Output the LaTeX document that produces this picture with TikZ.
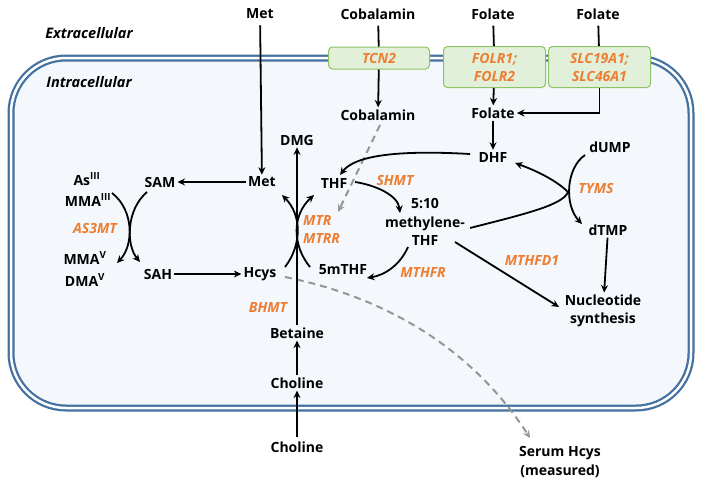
\documentclass[tikz,border=0pt]{standalone}
\usepackage{fontspec}
\setmainfont{Open Sans}
\usetikzlibrary{arrows.meta,calc}
\definecolor{orng}{RGB}{237,125,49}
\definecolor{memb}{RGB}{68,114,160}
\definecolor{cellfill}{RGB}{244,248,252}
\definecolor{boxfill}{RGB}{226,240,217}
\definecolor{boxline}{RGB}{140,195,100}
\definecolor{dgray}{RGB}{150,150,150}
\begin{document}
\begin{tikzpicture}[x=1pt,y=-1pt,
 lbl/.style={font=\fontsize{14}{18.5}\selectfont\bfseries, inner sep=2pt, align=center},
 enz/.style={font=\fontsize{14}{18}\selectfont\bfseries\itshape, text=orng, inner sep=1pt, align=center},
 tbox/.style={draw=boxline, fill=boxfill, rounded corners=4pt, line width=1pt, font=\fontsize{14}{18}\selectfont\bfseries\itshape, text=orng, align=center, inner sep=0pt},
 arr/.style={line width=1.8pt, -{Stealth[length=7.5pt,width=7pt]}},
 ln/.style={line width=1.8pt},
 dsh/.style={draw=dgray, line width=2pt, dash pattern=on 7pt off 5pt, -{Stealth[length=7.5pt,width=7pt]}}
]
\useasboundingbox (0,0) rectangle (704,491);
% cell membrane
\draw[draw=memb, line width=7pt, fill=cellfill, rounded corners=55pt] (11,58) rectangle (691,408);
\draw[draw=white, line width=2.5pt, rounded corners=55pt] (11,58) rectangle (691,408);

\node[font=\fontsize{14.5}{17}\selectfont\bfseries\itshape] (extra) at (89,33) {Extracellular};
\node[font=\fontsize{14.5}{17}\selectfont\bfseries\itshape] (intra) at (89,82) {Intracellular};

% outside
\node[lbl] (metout) at (260,14) {Met};
\node[lbl] (cobout) at (378,14) {Cobalamin};
\node[lbl] (folout1) at (493,14) {Folate};
\node[lbl] (folout2) at (598,14) {Folate};
\node[lbl] (cholout) at (297,447) {Choline};
\node[lbl] (serum) at (560,462) {Serum Hcys\\(measured)};

% transporters
\node[tbox, minimum width=101pt, minimum height=22pt] (tcn2) at (379,58) {TCN2};
\node[tbox, minimum width=102pt, minimum height=41pt] (folr) at (494.5,67) {FOLR1;\\FOLR2};
\node[tbox, minimum width=102pt, minimum height=41pt] (slc) at (599.5,67) {SLC19A1;\\SLC46A1};

% inside
\node[lbl] (cobin) at (378,115) {Cobalamin};
\node[lbl] (folin) at (493,113) {Folate};
\node[lbl] (dhf) at (493,157) {DHF};
\node[lbl] (thf) at (334,183) {THF};
\node[lbl] (mthf) at (425,222) {5:10\\methylene-\\THF};
\node[lbl] (fivem) at (343,270) {5mTHF};
\node[lbl] (dump) at (610,147) {dUMP};
\node[lbl] (dtmp) at (608,230) {dTMP};
\node[lbl] (nuc) at (603,311) {Nucleotide\\synthesis};
\node[lbl] (dmg) at (297,140) {DMG};
\node[lbl] (met) at (262,182) {Met};
\node[lbl] (hcys) at (260,274) {Hcys};
\node[lbl] (sam) at (160,182) {SAM};
\node[lbl] (sah) at (158,274) {SAH};
\node[lbl] (betaine) at (297,333) {Betaine};
\node[lbl] (cholin) at (297,383) {Choline};
\node[lbl] (asiii) at (87,179) {As\textsuperscript{III}};
\node[lbl] (mmaiii) at (88,200) {MMA\textsuperscript{III}};
\node[lbl] (mmav) at (85,258) {MMA\textsuperscript{V}};
\node[lbl] (dmav) at (85,280) {DMA\textsuperscript{V}};

% enzymes
\node[enz] (as3mt) at (95,228) {AS3MT};
\node[enz, anchor=west] (mtr) at (302,220) {MTR};
\node[enz, anchor=west] (mtrr) at (302,238) {MTRR};
\node[enz] (bhmt) at (268,307) {BHMT};
\node[enz] (shmt) at (395,180) {SHMT};
\node[enz] (mthfr) at (423,272) {MTHFR};
\node[enz] (mthfd) at (532,260) {MTHFD1};
\node[enz] (tyms) at (596,188) {TYMS};

% dashed grey
\draw[dsh] ([shift={(2,10)}]cobin.center) -- ([shift={(4,29)}]thf.center);
\draw[dsh] ([shift={(25,3)}]hcys.center) .. controls (400,300) and (480,360) .. ([shift={(-30,-24)}]serum.center);

% transport
\draw[arr, shorten <=4pt] (metout) -- (met);
\draw[ln, shorten <=4pt] (cobout) -- (tcn2);
\draw[arr] (tcn2) -- (cobin);
\draw[ln, shorten <=4pt] (folout1) -- (folr);
\draw[arr] (folr) -- (folin);
\draw[ln, shorten <=4pt] (folout2) -- (slc);
\draw[arr] (slc.south) |- (folin.east);
\draw[arr] (folin) -- (dhf);

% folate cycle
\draw[arr] ([shift={(-23,-3)}]dhf.center) .. controls (400,150) and (355,155) .. ([shift={(6,-8)}]thf.center);
\draw[arr] ([shift={(21,-1)}]thf.center) .. controls (375,185) and (398,195) .. ([shift={(-25,-9)}]mthf.center);
\draw[arr] ([shift={(-17,25)}]mthf.center) .. controls (400,265) and (385,275) .. ([shift={(24,8)}]fivem.center);
\coordinate (tj) at (568,192);
\draw[arr] ([shift={(45,6)}]mthf.center) .. controls (525,214) and (563,205) .. (tj) .. controls (558,182) and (540,172) .. ([shift={(22,6)}]dhf.center);
\draw[arr] ([shift={(-25,8)}]dump.center) .. controls (566,168) and (564,205) .. ([shift={(-26,-6)}]dtmp.center);
\draw[arr] (dtmp) -- (nuc);
\draw[arr] ([shift={(30,20)}]mthf.center) -- ([shift={(-44,-4)}]nuc.center);

% methionine cycle
\draw[arr] (met) -- (sam);
\draw[arr] (sah) -- (hcys);
\draw[arr] ([shift={(25,-7)}]hcys.center) .. controls (302,245) and (302,215) .. ([shift={(20,13)}]met.center);
\draw[arr] ([shift={(-33,-3)}]fivem.center) .. controls (292,245) and (292,215) .. ([shift={(-20,12)}]thf.center);
\draw[arr] (betaine) -- (dmg);
\draw[arr] (cholin) -- (betaine);
\draw[arr, shorten <=2pt] (cholout) -- (cholin);

% AS3MT
\draw[arr] ([shift={(-13,10)}]sam.center) .. controls (126,210) and (126,245) .. ([shift={(-18,-12)}]sah.center);
\draw[arr] ([shift={(24,-7)}]mmaiii.center) .. controls (134,210) and (134,245) .. ([shift={(32,5)}]mmav.center);
\end{tikzpicture}
\end{document}
